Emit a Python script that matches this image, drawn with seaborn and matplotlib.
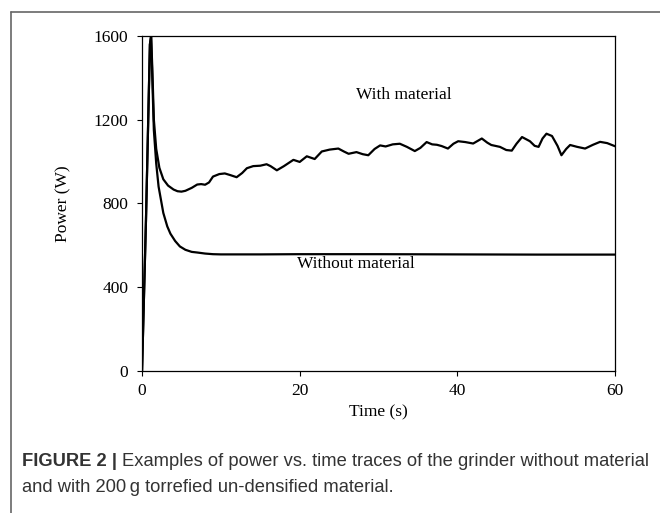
import matplotlib
matplotlib.use("Agg")
import matplotlib.pyplot as plt
import seaborn as sns
import pandas as pd
from matplotlib.lines import Line2D

# ---- data ----
t_with = [0, 0.5, 1.0, 1.15, 1.3, 1.5, 1.8, 2.2, 2.7, 3.3, 4.0, 4.5, 5.0, 5.5, 6.3,
          7.0, 7.5, 8.0, 8.5, 9.0, 9.8, 10.5, 11.2, 12.0, 12.7, 13.3, 14.1, 15.0,
          15.8, 16.3, 17.1, 18.0, 19.2, 20.0, 20.9, 21.9, 22.8, 23.8, 24.9, 25.6,
          26.2, 27.2, 28.0, 28.7, 29.5, 30.2, 30.9, 31.8, 32.7, 33.6, 34.6, 35.3,
          36.1, 36.8, 37.4, 38.0, 38.8, 39.5, 40.1, 41.0, 42.0, 43.1, 43.8, 44.3,
          45.4, 46.2, 46.9, 47.5, 48.2, 49.2, 49.8, 50.3, 50.8, 51.3, 52.0, 52.7,
          53.2, 53.8, 54.3, 55.2, 56.2, 57.2, 58.1, 59.0, 60.0]
p_with = [0, 720, 1560, 1600, 1450, 1200, 1060, 970, 915, 885, 866, 858, 856, 860, 874,
          890, 892, 889, 900, 928, 940, 943, 935, 925, 945, 968, 978, 980,
          987, 978, 958, 978, 1008, 998, 1025, 1012, 1048, 1057, 1062, 1048,
          1037, 1045, 1035, 1030, 1060, 1077, 1072, 1082, 1085, 1070, 1050, 1065,
          1093, 1082, 1080, 1074, 1062, 1085, 1097, 1093, 1086, 1110, 1090, 1079,
          1070, 1055, 1052, 1085, 1117, 1097, 1075, 1070, 1110, 1133, 1122, 1075,
          1030, 1060, 1079, 1070, 1062, 1080, 1094, 1088, 1073]

t_without = [0, 0.5, 1.0, 1.15, 1.3, 1.5, 1.8, 2.1, 2.7, 3.2, 3.6, 4.2, 4.8, 5.5,
             6.3, 7.0, 8.0, 9.0, 10, 15, 20, 30, 40, 50, 60]
p_without = [0, 720, 1560, 1600, 1400, 1150, 990, 880, 754, 690, 655, 620, 594, 578,
             568, 565, 560, 557, 556, 556, 557, 557, 556, 555, 555]

x_ticks = [0, 20, 40, 60]
y_ticks = [0, 400, 800, 1200, 1600]

sns.set_theme(style="white")
plt.rcParams['font.family'] = ['Liberation Serif', 'DejaVu Serif']

df_with = pd.DataFrame({"t": t_with, "p": p_with})
df_without = pd.DataFrame({"t": t_without, "p": p_without})

fig = plt.figure(figsize=(6.6, 5.13), dpi=100)
ax = fig.add_axes([0.2152, 0.2774, 0.7167, 0.6524])

sns.lineplot(data=df_with, x="t", y="p", ax=ax, color="black", linewidth=1.6,
             sort=False, estimator=None)
sns.lineplot(data=df_without, x="t", y="p", ax=ax, color="black", linewidth=1.6,
             sort=False, estimator=None)

FS = 12.5
ax.set_xlim(0, 60)
ax.set_ylim(0, 1600)
ax.set_xticks(x_ticks)
ax.set_yticks(y_ticks)
ax.set_xticklabels([str(v) for v in x_ticks])
ax.set_yticklabels([str(v) for v in y_ticks])
ax.tick_params(axis='both', direction='out', length=3.5, width=0.8, colors='black',
               labelsize=FS)
ax.tick_params(axis='y', left=True, pad=6.5)
ax.tick_params(axis='x', bottom=True, pad=5.5)
for s in ax.spines.values():
    s.set_visible(True)
    s.set_color('black')
    s.set_linewidth(0.9)
ax.set_xlabel("Time (s)", fontsize=FS, color='black', labelpad=4)
ax.set_ylabel("Power (W)", fontsize=FS, color='black', labelpad=16)
ax.grid(False)

ax.text(33.2, 1316, "With material", fontsize=FS, ha='center', va='center', color='black')
ax.text(19.7, 550, "Without material", fontsize=FS, ha='left', va='top', color='black')

# frame lines of the figure panel
fig.add_artist(Line2D([11/660, 1.0], [1 - 12/513, 1 - 12/513], color='#666666',
                      linewidth=1.2, transform=fig.transFigure))
fig.add_artist(Line2D([11/660, 11/660], [0, 1 - 12/513], color='#666666',
                      linewidth=1.2, transform=fig.transFigure))

# caption
cap_family = ['Liberation Sans', 'DejaVu Sans']
CFS = 13.2
x0 = 22/660
y1 = 1 - 466/513
y2 = 1 - 492/513
t_bold = fig.text(x0, y1, "FIGURE 2 | ", fontsize=CFS, fontweight='bold',
                  family=cap_family, color='#333333', va='baseline', ha='left')
fig.canvas.draw()
r = fig.canvas.get_renderer()
bb = t_bold.get_window_extent(renderer=r)
fig.text(bb.x1 / fig.bbox.width, y1,
         "Examples of power vs. time traces of the grinder without material",
         fontsize=CFS, family=cap_family, color='#333333', va='baseline', ha='left')
fig.text(x0, y2, "and with 200\u2009g torrefied un-densified material.",
         fontsize=CFS, family=cap_family, color='#333333', va='baseline', ha='left')

fig.savefig("out.png", dpi=100)
